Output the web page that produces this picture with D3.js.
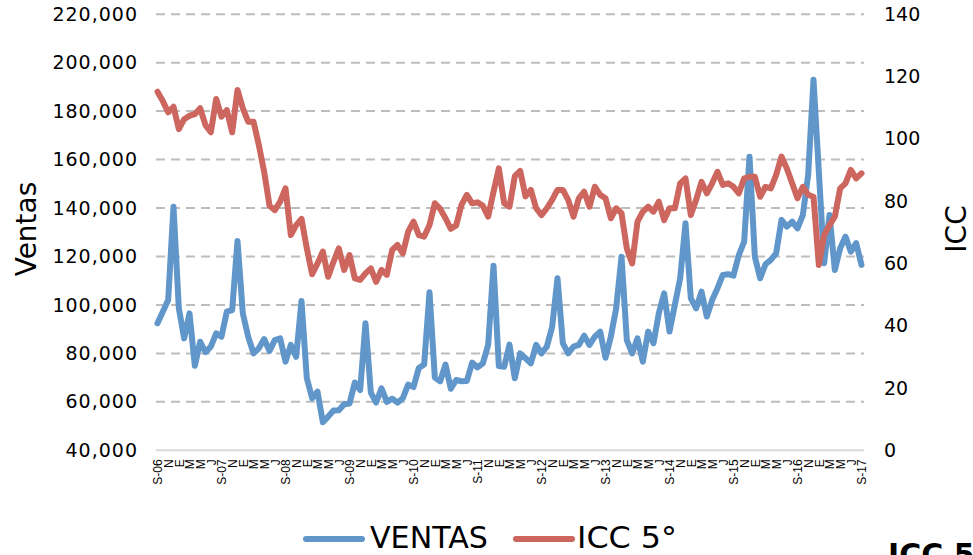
<!DOCTYPE html>
<html>
<head>
<meta charset="utf-8">
<script src="https://cdn.jsdelivr.net/npm/d3@7"></script>
<style>
  html, body { margin: 0; padding: 0; background: #fff; }
  svg { display: block; }
</style>
</head>
<body>
<svg id="chart" width="973" height="555"></svg>
<script>
// Monthly sales (left axis) and ICC 5° index (right axis), Sep 2006 – Sep 2017
const ventas = [
  92400, 97200, 102000, 140500, 98600, 86200, 96500, 74900, 84800, 80500, 82800, 88300,
  86900, 97200, 97900, 126400, 96500, 86900, 80000, 82100, 85900, 81000, 85500, 86200,
  76600, 83500, 78600, 101600, 69700, 61500, 64200, 51600, 53900, 56400, 56500, 59000,
  59300, 68000, 64900, 92400, 63800, 59700, 65600, 60000, 61300, 59700, 61500, 67100,
  66100, 74000, 75400, 105200, 70000, 68500, 75400, 65400, 69000, 68500, 68600, 76200,
  74200, 75900, 83500, 116200, 74800, 74500, 83600, 69700, 80000, 78000, 75900, 83500,
  80000, 82800, 91000, 111000, 84200, 80000, 82800, 83500, 87300, 83500, 86900, 89000,
  78200, 86900, 98600, 119900, 85500, 80000, 86200, 76600, 89000, 84200, 96600, 104800,
  89000, 100000, 111000, 133700, 102700, 98600, 105500, 95200, 102000, 106900, 112400, 112700,
  112100, 120600, 126100, 161200, 119900, 111000, 116800, 118600, 121300, 135100, 132300, 134400,
  131600, 137100, 153700, 192900, 155000, 117200, 137100, 114400, 123400, 128200, 122000, 125500,
  116500
];
const icc = [
  115.1, 112.1, 108.5, 110.3, 103.1, 106.3, 107.4, 107.9, 109.8, 104.4, 102.1, 112.8,
  107.1, 109.2, 102.1, 115.7, 109.8, 105.5, 105.5, 98.0, 89.4, 78.5, 77.1, 79.8,
  84.1, 69.1, 72.3, 74.3, 64.8, 56.5, 60.0, 63.8, 55.7, 60.5, 64.8, 57.9,
  62.7, 55.2, 54.7, 56.8, 58.4, 54.1, 57.9, 56.3, 64.3, 65.9, 63.2, 70.2,
  73.4, 69.1, 68.6, 72.3, 79.3, 77.5, 74.5, 71.1, 72.2, 78.8, 82.0, 79.3,
  79.6, 78.5, 75.0, 83.0, 90.5, 79.3, 78.2, 88.0, 89.7, 81.5, 83.6, 77.7,
  75.5, 77.7, 80.4, 83.6, 83.6, 80.4, 75.0, 80.9, 83.0, 78.2, 84.6, 82.0,
  80.9, 74.5, 77.7, 76.1, 64.8, 60.0, 73.4, 76.6, 78.2, 76.6, 79.8, 73.9,
  77.7, 77.7, 85.7, 87.3, 75.5, 80.4, 86.2, 82.5, 85.7, 89.4, 85.2, 85.7,
  84.6, 82.5, 87.3, 87.8, 87.8, 81.4, 84.6, 84.1, 88.4, 94.3, 90.5, 85.7,
  80.9, 84.6, 82.0, 81.4, 59.5, 69.1, 72.3, 75.0, 84.1, 85.7, 90.0, 87.3,
  88.9
];
// Category labels, one every two months
const xTickLabels = [
  "S-06","N","E","M","M","J",
  "S-07","N","E","M","M","J",
  "S-08","N","E","M","M","J",
  "S-09","N","E","M","M","J",
  "S-10","N","E","M","M","J",
  "S-11","N","E","M","M","J",
  "S-12","N","E","M","M","J",
  "S-13","N","E","M","M","J",
  "S-14","N","E","M","M","J",
  "S-15","N","E","M","M","J",
  "S-16","N","E","M","M","J",
  "S-17"
];
const leftTicks = [40000, 60000, 80000, 100000, 120000, 140000, 160000, 180000, 200000, 220000];
const rightTicks = [0, 20, 40, 60, 80, 100, 120, 140];
const seriesNames = ["VENTAS", "ICC 5°"];

const BLUE = "#6096ca";
const RED = "#cc665e";

const svg = d3.select("#chart");
const months = d3.range(ventas.length);

const plot = { left: 156, right: 864, top: 14.2, bottom: 450.3 };

const x = d3.scalePoint().domain(months).range([157.5, 861.5]);
const yL = d3.scaleLinear().domain([40000, 220000]).range([plot.bottom, plot.top]);
const yR = d3.scaleLinear().domain([0, 140]).range([plot.bottom, plot.top]);

// Dashed horizontal gridlines
svg.append("g")
  .selectAll("line")
  .data(leftTicks.filter(t => t > 40000))
  .join("line")
  .attr("x1", plot.left).attr("x2", plot.right)
  .attr("y1", d => yL(d)).attr("y2", d => yL(d))
  .attr("stroke", "#bdbdbd")
  .attr("stroke-width", 2)
  .attr("stroke-dasharray", "9,6");

// Category axis baseline
svg.append("line")
  .attr("x1", plot.left).attr("x2", plot.right)
  .attr("y1", plot.bottom).attr("y2", plot.bottom)
  .attr("stroke", "#d9d9d9")
  .attr("stroke-width", 2);

// Left axis (Ventas)
const leftAxis = d3.axisLeft(yL).tickValues(leftTicks).tickFormat(d3.format(",")).tickSize(0).tickPadding(0);
const gL = svg.append("g").attr("transform", "translate(138,0)").call(leftAxis);
gL.select(".domain").remove();
gL.selectAll("text")
  .attr("font-family", "DejaVu Sans, sans-serif")
  .attr("font-size", 19)
  .attr("letter-spacing", "1px")
  .attr("fill", "#000");

// Right axis (ICC)
const rightAxis = d3.axisRight(yR).tickValues(rightTicks).tickSize(0).tickPadding(0);
const gR = svg.append("g").attr("transform", "translate(884,0)").call(rightAxis);
gR.select(".domain").remove();
gR.selectAll("text")
  .attr("font-family", "DejaVu Sans, sans-serif")
  .attr("font-size", 19)
  .attr("fill", "#000");

// Category tick labels, rotated
const labelIdx = xTickLabels.map((_, k) => k * 2);
const xAxis = d3.axisBottom(x).tickValues(labelIdx)
  .tickFormat((d, k) => xTickLabels[k]).tickSize(0).tickPadding(0);
const gX = svg.append("g").attr("transform", `translate(0,${plot.bottom + 9})`).call(xAxis);
gX.select(".domain").remove();
gX.selectAll("text")
  .attr("font-family", "Liberation Sans, Arial, sans-serif")
  .attr("font-size", 12)
  .attr("fill", "#000")
  .attr("text-anchor", "end")
  .attr("transform", "rotate(-90)")
  .attr("x", 0)
  .attr("y", 0)
  .attr("dy", "0.35em");

// Series lines
const lineV = d3.line().x((d, i) => x(i)).y(d => yL(d));
const lineI = d3.line().x((d, i) => x(i)).y(d => yR(d));

svg.append("path")
  .datum(ventas)
  .attr("d", lineV)
  .attr("fill", "none")
  .attr("stroke", BLUE)
  .attr("stroke-width", 6)
  .attr("stroke-linejoin", "round")
  .attr("stroke-linecap", "round");

svg.append("path")
  .datum(icc)
  .attr("d", lineI)
  .attr("fill", "none")
  .attr("stroke", RED)
  .attr("stroke-width", 6)
  .attr("stroke-linejoin", "round")
  .attr("stroke-linecap", "round");

// Axis titles
svg.append("text")
  .attr("transform", "translate(36,229) rotate(-90)")
  .attr("text-anchor", "middle")
  .attr("font-family", "DejaVu Sans, sans-serif")
  .attr("font-size", 28)
  .attr("fill", "#000")
  .text("Ventas");

svg.append("text")
  .attr("transform", "translate(966,229) rotate(-90)")
  .attr("text-anchor", "middle")
  .attr("font-family", "DejaVu Sans, sans-serif")
  .attr("font-size", 28)
  .attr("fill", "#000")
  .text("ICC");

// Legend
const legend = svg.append("g");
const legendItems = [
  { name: seriesNames[0], color: BLUE, x0: 306, x1: 362, tx: 370, len: 118 },
  { name: seriesNames[1], color: RED, x0: 516, x1: 572, tx: 577, len: 100 }
];
legendItems.forEach(it => {
  legend.append("line")
    .attr("x1", it.x0).attr("x2", it.x1)
    .attr("y1", 539).attr("y2", 539)
    .attr("stroke", it.color)
    .attr("stroke-width", 6)
    .attr("stroke-linecap", "round");
  legend.append("text")
    .attr("x", it.tx).attr("y", 548)
    .attr("font-family", "DejaVu Sans, sans-serif")
    .attr("font-size", 30)
    .attr("textLength", it.len)
    .attr("lengthAdjust", "spacingAndGlyphs")
    .attr("fill", "#000")
    .text(it.name);
});

// Caption running off the lower right edge
svg.append("text")
  .attr("x", 888).attr("y", 565)
  .attr("font-family", "DejaVu Sans, sans-serif")
  .attr("font-weight", "bold")
  .attr("font-size", 30)
  .attr("fill", "#000")
  .text("ICC 5°");
</script>
</body>
</html>
